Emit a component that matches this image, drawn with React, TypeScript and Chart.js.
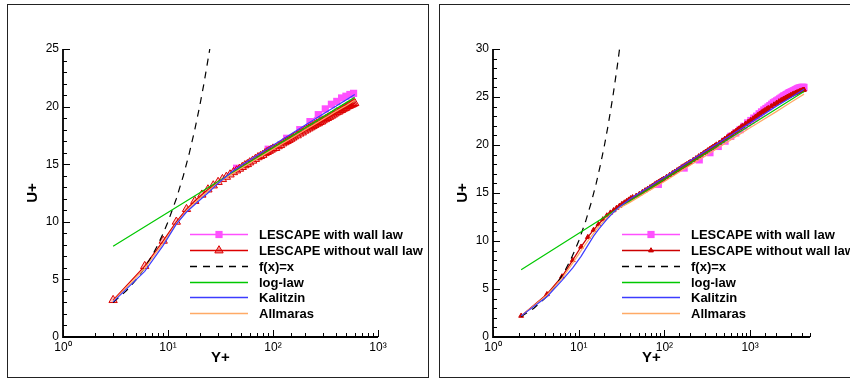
import { useEffect, useRef } from 'react';
import { Chart, registerables } from 'chart.js';
Chart.register(...registerables);

// ---------- common labels ----------
const legendLabels = ['LESCAPE with wall law', 'LESCAPE without wall law', 'f(x)=x', 'log-law', 'Kalitzin', 'Allmaras'];
const xTickLabels = ['10⁰', '10¹', '10²', '10³'];
const xTitle = 'Y+';
const yTitle = 'U+';

// ---------- left panel data ----------
const leftWallX = [45, 90, 135, 180, 225, 270, 315, 360, 405, 450, 495, 540, 585];
const leftWallY = [14.65, 16.3, 17.25, 18.0, 18.7, 19.3, 19.8, 20.2, 20.45, 20.75, 20.9, 21.05, 21.15];

const leftRedX = [3, 6, 9, 12, 15, 18, 21, 24, 27, 30, 33, 36, 39, 42, 45, 48, 51, 54, 57, 60,
  64, 68, 72, 76, 80, 84, 88, 92, 96, 100,
  106, 112, 118, 124, 130, 136, 142, 148, 154, 160,
  170, 180, 190, 200, 210, 220, 230, 240, 250, 260, 270, 280, 290, 300,
  315, 330, 345, 360, 375, 390, 405, 420, 435, 450, 465, 480, 495, 510, 525, 540, 555, 570, 585, 600];
const leftRedY = [3.2, 6.15, 8.35, 10.0, 11.1, 11.8, 12.35, 12.8, 13.15, 13.45, 13.7, 13.9, 14.1, 14.3, 14.45, 14.6, 14.75, 14.9, 15.0, 15.15,
  15.3, 15.45, 15.6, 15.7, 15.8, 15.95, 16.05, 16.15, 16.25, 16.35,
  16.4, 16.55, 16.65, 16.8, 16.9, 17.0, 17.1, 17.2, 17.3, 17.4,
  17.5, 17.65, 17.75, 17.9, 18.0, 18.1, 18.2, 18.3, 18.4, 18.5, 18.55, 18.65, 18.7, 18.8,
  18.9, 19.0, 19.1, 19.2, 19.3, 19.4, 19.5, 19.55, 19.65, 19.7, 19.8, 19.85, 19.9, 20.0, 20.05, 20.1, 20.15, 20.2, 20.25, 20.3];

const leftLinX = [3, 4, 5, 6, 7, 8, 9, 10, 12, 14, 16, 18, 20, 22, 25];
const leftLinY = [3, 4, 5, 6, 7, 8, 9, 10, 12, 14, 16, 18, 20, 22, 25];

const leftLogX = [3, 30, 600];
const leftLogY = [7.88, 13.5, 20.8];

const leftKalX = [3, 6, 9, 12, 15, 18, 21, 24, 27, 30, 40, 50, 70, 100, 150, 200, 300, 400, 500, 600];
const leftKalY = [3.05, 5.7, 7.95, 9.8, 10.85, 11.5, 12.05, 12.5, 12.95, 13.35, 14.3, 14.9, 15.75, 16.65, 17.65, 18.35, 19.35, 20.05, 20.6, 21.05];

const leftAllX = [3, 6, 9, 12, 15, 18, 21, 24, 27, 30, 40, 50, 70, 100, 150, 200, 300, 400, 500, 600];
const leftAllY = [3.1, 5.95, 8.15, 9.85, 10.95, 11.65, 12.2, 12.65, 13.05, 13.4, 14.1, 14.65, 15.45, 16.3, 17.25, 17.95, 18.9, 19.6, 20.1, 20.55];

const leftYTicksMajor = [0, 5, 10, 15, 20, 25];

// ---------- right panel data ----------
const rightWallX = [85, 170, 255, 340, 425, 510, 595, 680, 765, 850, 935, 1020, 1105, 1190, 1275, 1360, 1445, 1530, 1615, 1700,
  1785, 1870, 1955, 2040, 2125, 2210, 2295, 2380, 2465, 2550, 2635, 2720, 2805, 2890, 2975, 3060, 3145, 3230, 3315, 3400,
  3485, 3570, 3655, 3740, 3825, 3910, 3995, 4080, 4165, 4250];
const rightWallY = [15.9, 17.6, 18.45, 19.2, 19.85, 20.4, 20.9, 21.25, 21.6, 21.95, 22.3, 22.55, 22.8, 23.0, 23.25, 23.45, 23.65, 23.8, 23.95, 24.1,
  24.25, 24.4, 24.5, 24.6, 24.7, 24.8, 24.9, 25.0, 25.1, 25.15, 25.25, 25.3, 25.4, 25.45, 25.5, 25.55, 25.6, 25.65, 25.7, 25.75,
  25.8, 25.85, 25.9, 25.92, 25.95, 25.97, 26.0, 26.0, 26.0, 26.0];

const rightRedX = [2.13, 4.26, 6.39, 8.52, 10.65, 12.78, 14.91, 17.04, 19.17, 21.3, 23.43, 25.56, 27.69, 29.82, 31.95, 34.08, 36.21, 38.34, 40.47, 42.6,
  46.9, 51.1, 55.4, 59.6, 63.9, 68.2, 72.4, 76.7, 80.9, 85.2, 89.5, 93.7, 98,
  106, 115, 124, 132, 141, 149, 158, 166, 175, 183, 192, 200,
  217, 234, 251, 268, 285, 302, 319, 336, 353, 370, 387, 404,
  438, 472, 506, 540, 574, 608, 642, 676, 710, 744, 778, 812,
  880, 948, 1016, 1084, 1152, 1220, 1288, 1356, 1424, 1492, 1560, 1628,
  1764, 1900, 2036, 2172, 2308, 2444, 2580, 2716, 2852, 2988, 3124, 3260, 3396, 3532, 3668, 3804, 3940, 4076, 4212, 4260];
const rightRedY = [2.2, 4.45, 6.3, 8.0, 9.4, 10.4, 11.15, 11.75, 12.25, 12.65, 12.95, 13.2, 13.45, 13.65, 13.85, 14.0, 14.15, 14.3, 14.45, 14.55,
  14.7, 14.9, 15.1, 15.27, 15.44, 15.6, 15.74, 15.89, 16.01, 16.14, 16.26, 16.37, 16.48,
  16.67, 16.87, 17.06, 17.21, 17.37, 17.5, 17.65, 17.77, 17.9, 18.0, 18.12, 18.22,
  18.44, 18.62, 18.81, 18.98, 19.14, 19.29, 19.43, 19.56, 19.69, 19.81, 19.92, 20.04,
  20.23, 20.44, 20.64, 20.82, 20.98, 21.13, 21.29, 21.43, 21.57, 21.71, 21.84, 21.96,
  22.19, 22.4, 22.59, 22.76, 22.93, 23.09, 23.25, 23.39, 23.51, 23.62, 23.73, 23.84,
  24.03, 24.21, 24.38, 24.54, 24.67, 24.79, 24.9, 25.01, 25.1, 25.2, 25.28, 25.35, 25.42, 25.49, 25.55, 25.61, 25.66, 25.71, 25.75, 25.75];

const rightLinX = [2.13, 3, 4, 5, 6, 7, 8, 9, 10, 12, 14, 16, 18, 20, 22, 25, 28, 31];
const rightLinY = [2.13, 3, 4, 5, 6, 7, 8, 9, 10, 12, 14, 16, 18, 20, 22, 25, 28, 31];

const rightLogX = [2.13, 30, 4260];
const rightLogY = [7.0, 13.5, 25.58];

const rightKalX = [2.13, 4.26, 6.39, 8.52, 10.65, 12.78, 14.91, 17.04, 21.3, 25.56, 29.82, 40, 60, 100, 200, 400, 1000, 2000, 3000, 4260];
const rightKalY = [2.2, 4.2, 5.9, 7.2, 8.4, 9.55, 10.5, 11.2, 12.25, 13.0, 13.55, 14.4, 15.4, 16.65, 18.35, 20.05, 22.3, 24.0, 24.95, 25.8];

const rightAllX = [2.13, 4.26, 6.39, 8.52, 10.65, 12.78, 14.91, 17.04, 21.3, 25.56, 29.82, 40, 60, 100, 200, 400, 1000, 2000, 3000, 4260];
const rightAllY = [2.2, 4.35, 6.1, 7.7, 9.0, 10.0, 10.8, 11.5, 12.4, 13.0, 13.45, 14.05, 15.0, 16.2, 17.9, 19.55, 21.8, 23.45, 24.45, 25.3];

const rightYTicksMajor = [0, 5, 10, 15, 20, 25, 30];

// ---------- styling ----------
const FONT = "'Liberation Sans', Arial, Helvetica, sans-serif";
const MAGENTA = '#ff50ff';
const GREEN = '#00c800';
const BLUE = '#3c3cff';
const ORANGE = '#ffaa66';

const pts = (xs: number[], ys: number[]) => xs.map((x, i) => ({ x, y: ys[i] }));
const isDecade = (v: number) => {
  const e = Math.log10(v);
  return Math.abs(e - Math.round(e)) < 1e-9;
};

type Spec = {
  left: number; w: number; yAxisW: number; padRight: number; yMax: number; xMax: number;
  yTitlePad: number; majors: number[];
  wall: [number[], number[]]; red: [number[], number[]]; lin: [number[], number[]];
  log: [number[], number[]]; kal: [number[], number[]]; all: [number[], number[]];
  redColor: string; redRadius: number; redFill: string; legendFill: string;
  legend: { x0: number; x1: number; tx: number; rows: number[] };
};

const leftSpec: Spec = {
  left: 0, w: 434, yAxisW: 63, padRight: 56, yMax: 25, xMax: 1000, yTitlePad: 24, majors: leftYTicksMajor,
  wall: [leftWallX, leftWallY], red: [leftRedX, leftRedY], lin: [leftLinX, leftLinY],
  log: [leftLogX, leftLogY], kal: [leftKalX, leftKalY], all: [leftAllX, leftAllY],
  redColor: '#dd0000', redRadius: 4.8, redFill: 'rgba(221,0,0,0.22)', legendFill: 'rgba(221,0,0,0.4)',
  legend: { x0: 190, x1: 248, tx: 259, rows: [234, 250, 266, 282, 297, 313] },
};
const rightSpec: Spec = {
  left: 434, w: 416, yAxisW: 59, padRight: 40, yMax: 30, xMax: 5000, yTitlePad: 20, majors: rightYTicksMajor,
  wall: [rightWallX, rightWallY], red: [rightRedX, rightRedY], lin: [rightLinX, rightLinY],
  log: [rightLogX, rightLogY], kal: [rightKalX, rightKalY], all: [rightAllX, rightAllY],
  redColor: '#cc0000', redRadius: 2.8, redFill: '#cc0000', legendFill: '#cc0000',
  legend: { x0: 188, x1: 246, tx: 257, rows: [234, 250, 266, 282, 297, 313] },
};

function makePlugin(s: Spec) {
  return {
    id: 'axesLegend',
    afterDraw(chart: any) {
      const ctx = chart.ctx as CanvasRenderingContext2D;
      const { left, right, top, bottom } = chart.chartArea;
      const xs = chart.scales.x;
      const ys = chart.scales.y;
      ctx.save();
      ctx.strokeStyle = '#000';
      ctx.lineWidth = 1.8;
      ctx.beginPath();
      ctx.moveTo(left, top);
      ctx.lineTo(left, bottom);
      ctx.lineTo(right, bottom);
      ctx.stroke();
      ctx.lineWidth = 1;
      ys.ticks.forEach((t: any) => {
        const py = Math.round(ys.getPixelForValue(t.value)) + 0.5;
        const len = s.majors.includes(t.value) ? 7 : 4;
        ctx.beginPath();
        ctx.moveTo(left, py);
        ctx.lineTo(left + len, py);
        ctx.stroke();
      });
      xs.ticks.forEach((t: any) => {
        const px = Math.round(xs.getPixelForValue(t.value)) + 0.5;
        const len = isDecade(t.value) ? 7 : 4;
        ctx.beginPath();
        ctx.moveTo(px, bottom);
        ctx.lineTo(px, bottom - len);
        ctx.stroke();
      });

      // legend
      const L = s.legend;
      const ds = chart.data.datasets;
      const mid = (L.x0 + L.x1) / 2;
      legendLabels.forEach((label, i) => {
        const d = ds[i];
        const y = L.rows[i] + 0.5;
        ctx.save();
        ctx.strokeStyle = d.borderColor;
        ctx.lineWidth = 1.5;
        ctx.setLineDash(d.borderDash || []);
        ctx.beginPath();
        ctx.moveTo(L.x0, y);
        ctx.lineTo(L.x1, y);
        ctx.stroke();
        ctx.setLineDash([]);
        if (i === 0) {
          ctx.fillStyle = MAGENTA;
          ctx.fillRect(mid - 3.6, y - 3.6, 7.2, 7.2);
        } else if (i === 1) {
          const r = s.redRadius;
          ctx.beginPath();
          ctx.moveTo(mid, y - r);
          ctx.lineTo(mid + r * 0.866, y + r / 2);
          ctx.lineTo(mid - r * 0.866, y + r / 2);
          ctx.closePath();
          ctx.fillStyle = s.legendFill;
          ctx.fill();
          ctx.strokeStyle = s.redColor;
          ctx.lineWidth = 1;
          ctx.stroke();
        }
        ctx.fillStyle = '#000';
        ctx.font = `bold 13px ${FONT}`;
        ctx.textBaseline = 'middle';
        ctx.textAlign = 'left';
        ctx.fillText(label, L.tx, y + 0.5);
        ctx.restore();
      });
      ctx.restore();
    },
  };
}

function makeConfig(s: Spec): any {
  return {
    type: 'line',
    data: {
      datasets: [
        {
          label: legendLabels[0], data: pts(s.wall[0], s.wall[1]), borderColor: MAGENTA, backgroundColor: MAGENTA,
          borderWidth: 1.2, pointStyle: 'rect', pointRadius: 5.1, pointBackgroundColor: MAGENTA, pointBorderWidth: 0, order: 6,
        },
        {
          label: legendLabels[1], data: pts(s.red[0], s.red[1]), borderColor: s.redColor, backgroundColor: s.redColor,
          borderWidth: 1.3, pointStyle: 'triangle', pointRadius: s.redRadius, pointBackgroundColor: s.redFill,
          pointBorderColor: s.redColor, pointBorderWidth: 1, order: 5,
        },
        {
          label: legendLabels[2], data: pts(s.lin[0], s.lin[1]), borderColor: '#000', borderWidth: 1.2,
          borderDash: [7, 6], pointRadius: 0, order: 4,
        },
        { label: legendLabels[3], data: pts(s.log[0], s.log[1]), borderColor: GREEN, borderWidth: 1.2, pointRadius: 0, order: 3 },
        { label: legendLabels[4], data: pts(s.kal[0], s.kal[1]), borderColor: BLUE, borderWidth: 1.2, pointRadius: 0, order: 1 },
        { label: legendLabels[5], data: pts(s.all[0], s.all[1]), borderColor: ORANGE, borderWidth: 1.2, pointRadius: 0, order: 2 },
      ],
    },
    options: {
      animation: false,
      responsive: false,
      maintainAspectRatio: false,
      layout: { padding: { left: 0, top: 49, right: s.padRight, bottom: 0 } },
      plugins: { legend: { display: false }, tooltip: { enabled: false } },
      scales: {
        x: {
          type: 'logarithmic', min: 1, max: s.xMax,
          grid: { display: false, drawTicks: false }, border: { display: false },
          ticks: {
            autoSkip: false, maxRotation: 0, minRotation: 0, padding: 3, color: '#000',
            font: { family: FONT, size: 12 },
            callback: (v: number) => (isDecade(v) ? xTickLabels[Math.round(Math.log10(v))] : ''),
          },
          title: { display: true, text: xTitle, color: '#000', font: { family: FONT, size: 15, weight: 'bold' }, padding: { top: 0, bottom: 12 } },
          afterFit: (sc: any) => { sc.height = 42; },
        },
        y: {
          type: 'linear', min: 0, max: s.yMax,
          grid: { display: false, drawTicks: false }, border: { display: false },
          ticks: {
            stepSize: 1, autoSkip: false, padding: 4, color: '#000',
            font: { family: FONT, size: 12 },
            callback: (v: number) => (s.majors.includes(v) ? String(v) : ''),
          },
          title: { display: true, text: yTitle, color: '#000', font: { family: FONT, size: 15, weight: 'bold' }, padding: { top: s.yTitlePad, bottom: 0 } },
          afterFit: (sc: any) => { sc.width = s.yAxisW; },
        },
      },
    },
    plugins: [makePlugin(s)],
  };
}

function Panel({ spec }: { spec: Spec }) {
  const ref = useRef<HTMLCanvasElement>(null);
  useEffect(() => {
    const chart = new Chart(ref.current as HTMLCanvasElement, makeConfig(spec));
    return () => chart.destroy();
  }, [spec]);
  return (
    <canvas
      ref={ref}
      width={spec.w}
      height={379}
      style={{ position: 'absolute', left: spec.left, top: 0, width: spec.w, height: 379 }}
    />
  );
}

export default function App() {
  return (
    <div style={{ position: 'absolute', left: 0, top: 0, width: 850, height: 379, overflow: 'hidden', background: '#fff' }}>
      <Panel spec={leftSpec} />
      <Panel spec={rightSpec} />
      <div style={{ position: 'absolute', left: 7, top: 4, width: 422, height: 374, border: '1px solid #222', boxSizing: 'border-box', pointerEvents: 'none' }} />
      <div style={{ position: 'absolute', left: 439, top: 4, width: 430, height: 374, border: '1px solid #222', boxSizing: 'border-box', pointerEvents: 'none' }} />
    </div>
  );
}
